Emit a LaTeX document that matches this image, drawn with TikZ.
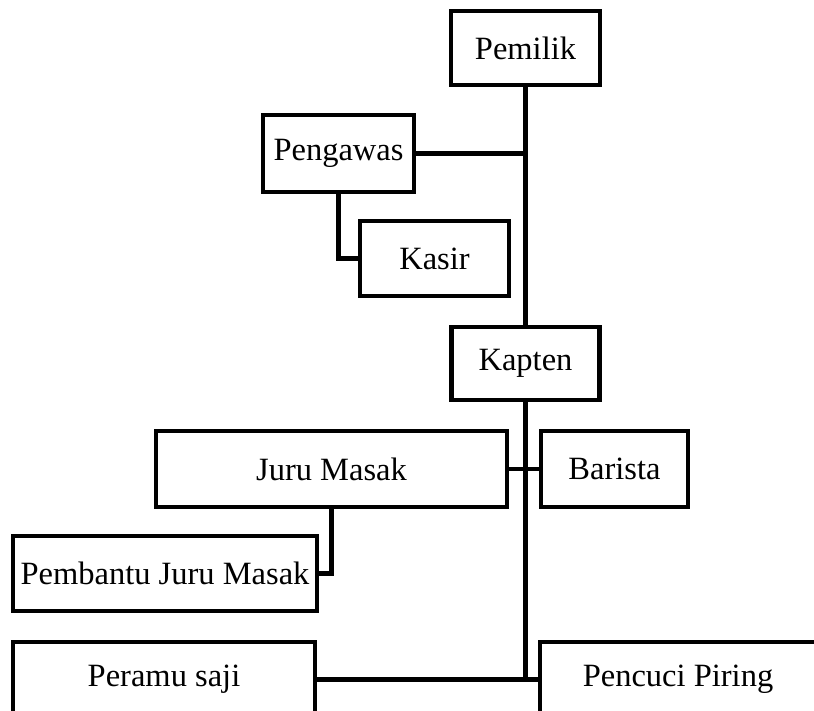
\documentclass[tikz,border=0pt]{standalone}
\usepackage{fontspec}
\setmainfont{Liberation Serif}
\begin{document}
\begin{tikzpicture}[x=1pt,y=-1pt,
  box/.style={draw,line width=4.5pt,inner sep=0pt,outer sep=0pt,
    font=\fontsize{32.5}{39}\selectfont,line join=miter},
  link/.style={line width=4.5pt,line join=miter}]
\clip (0,0) rectangle (814,710);
\useasboundingbox (0,0) rectangle (814,710);
\node[box,minimum width=149pt,minimum height=74pt] (pemilik) at (525.5,48) {Pemilik};
\node[box,minimum width=151pt,minimum height=77pt] (pengawas) at (338.5,153.5) {Pengawas};
\node[box,minimum width=149pt,minimum height=75pt] (kasir) at (434.5,258.5) {Kasir};
\node[box,minimum width=148pt,minimum height=73pt] (kapten) at (525.5,363.5) {Kapten};
\node[box,minimum width=351pt,minimum height=76pt] (juru) at (331.5,469) {Juru Masak};
\node[box,minimum width=147pt,minimum height=76pt] (barista) at (614.5,469) {Barista};
\node[box,minimum width=304pt,minimum height=75pt] (pembantu) at (165,573.5) {Pembantu Juru Masak};
\node[box,minimum width=302pt,minimum height=75pt] (peramu) at (164,679.5) {Peramu saji};
\node[box,minimum width=276pt,minimum height=75pt] (pencuci) at (678,679.5) {Pencuci Piring};
\coordinate (bend) at (kapten.south |- peramu.east);
\draw[link] (pemilik.south) -- (kapten.north);
\draw[link] (kapten.south) -- (bend);
\draw[link] (pengawas.east) -- (pengawas.east -| pemilik.south);
\draw[link] (pengawas.south) |- (kasir.west);
\draw[link] (juru.east) -- (barista.west);
\draw[link] (juru.south) |- (pembantu.east);
\draw[link] (peramu.east) -- (pencuci.west);
\end{tikzpicture}
\end{document}
